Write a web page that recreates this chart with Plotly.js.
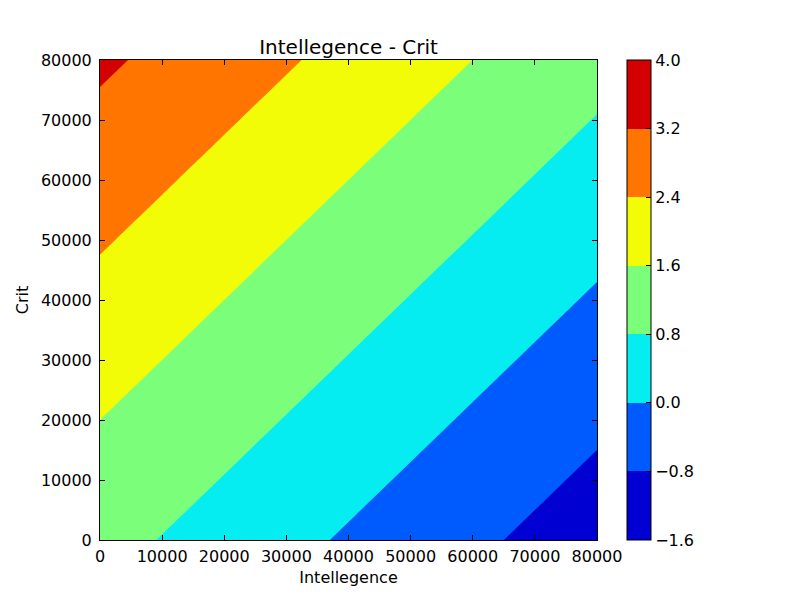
<!DOCTYPE html>
<html>
<head>
<meta charset="utf-8">
<script src="https://cdn.plot.ly/plotly-3.0.1.min.js"></script>
<style>html,body{margin:0;padding:0;background:#fff;}#chart{width:800px;height:600px;}</style>
</head>
<body>
<div id="chart"></div>
<script>
// Axis grid values (Intellegence on x, Crit on y)
const intellegence = [0, 10000, 20000, 30000, 40000, 50000, 60000, 70000, 80000];
const crit = [0, 10000, 20000, 30000, 40000, 50000, 60000, 70000, 80000];
// z values, rows = crit, columns = intellegence
const zRow0 = [1.050, 0.774, 0.488, 0.201, -0.086, -0.371, -0.657, -0.943, -1.229];
const zRow1 = [1.325, 1.050, 0.774, 0.488, 0.201, -0.086, -0.371, -0.657, -0.943];
const zRow2 = [1.599, 1.325, 1.050, 0.774, 0.488, 0.201, -0.086, -0.371, -0.657];
const zRow3 = [1.891, 1.599, 1.325, 1.050, 0.774, 0.488, 0.201, -0.086, -0.371];
const zRow4 = [2.182, 1.891, 1.599, 1.325, 1.050, 0.774, 0.488, 0.201, -0.086];
const zRow5 = [2.471, 2.182, 1.891, 1.599, 1.325, 1.050, 0.774, 0.488, 0.201];
const zRow6 = [2.757, 2.471, 2.182, 1.891, 1.599, 1.325, 1.050, 0.774, 0.488];
const zRow7 = [3.043, 2.757, 2.471, 2.182, 1.891, 1.599, 1.325, 1.050, 0.774];
const zRow8 = [3.329, 3.043, 2.757, 2.471, 2.182, 1.891, 1.599, 1.325, 1.050];
const zValues = [zRow0, zRow1, zRow2, zRow3, zRow4, zRow5, zRow6, zRow7, zRow8];

const levels = [-1.6, -0.8, 0.0, 0.8, 1.6, 2.4, 3.2, 4.0];
const levelLabels = ['\u22121.6', '\u22120.8', '0.0', '0.8', '1.6', '2.4', '3.2', '4.0'];
const bandColors = ['#0000d2', '#005bff', '#06edf1', '#7bff7b', '#f1fc06', '#ff7500', '#d20000'];
const xTicks = [0, 10000, 20000, 30000, 40000, 50000, 60000, 70000, 80000];
const yTicks = [0, 10000, 20000, 30000, 40000, 50000, 60000, 70000, 80000];

// step colorscale
const n = bandColors.length;
const colorscale = [];
bandColors.forEach((c, k) => {
  colorscale.push([k / n, c]);
  colorscale.push([(k + 1) / n, c]);
});

const font = 'DejaVu Sans, sans-serif';

const trace = {
  type: 'contour',
  x: intellegence,
  y: crit,
  z: zValues,
  colorscale: colorscale,
  zmin: levels[0],
  zmax: levels[levels.length - 1] + 0.0001,
  autocontour: false,
  contours: {start: levels[0], end: levels[levels.length - 1], size: 0.8, coloring: 'fill', showlines: false},
  line: {width: 0},
  colorbar: {
    x: 1 + 30 / 497, xanchor: 'left', xref: 'paper',
    y: 0.5, yanchor: 'middle', len: 1, lenmode: 'fraction',
    thickness: 24, thicknessmode: 'pixels',
    xpad: 0, ypad: 0,
    outlinewidth: 1, outlinecolor: '#000',
    ticks: 'inside', ticklen: 5, tickcolor: '#000', tickwidth: 1,
    tickmode: 'array', tickvals: levels, ticktext: levelLabels,
    tickfont: {family: font, size: 16, color: '#000'}
  },
  hoverinfo: 'skip'
};

const axisCommon = {
  ticks: 'inside', ticklen: 5, tickwidth: 1, tickcolor: '#000',
  showline: true, linecolor: '#000', linewidth: 1, mirror: 'allticks',
  showgrid: false, zeroline: false,
  tickfont: {family: font, size: 16, color: '#000'},
  tickmode: 'array', tickformat: 'd'
};

const layout = {
  width: 800, height: 600,
  margin: {l: 100, r: 203, t: 60, b: 60, pad: 0},
  paper_bgcolor: '#fff', plot_bgcolor: '#fff',
  font: {family: font, color: '#000'},
  title: {text: 'Intellegence - Crit', font: {family: font, size: 20, color: '#000'},
          x: 0.5, xref: 'paper', y: 1, yref: 'paper', yanchor: 'bottom', pad: {b: 6}},
  xaxis: Object.assign({}, axisCommon, {range: [0, 80000], tickvals: xTicks, ticklabelstandoff: 2,
    title: {text: 'Intellegence', font: {family: font, size: 16, color: '#000'}, standoff: 6}}),
  yaxis: Object.assign({}, axisCommon, {range: [0, 80000], tickvals: yTicks, ticklabelstandoff: 4,
    title: {text: 'Crit', font: {family: font, size: 16, color: '#000'}, standoff: 8}}),
  showlegend: false
};

Plotly.newPlot('chart', [trace], layout, {staticPlot: true, displayModeBar: false});
</script>
</body>
</html>
